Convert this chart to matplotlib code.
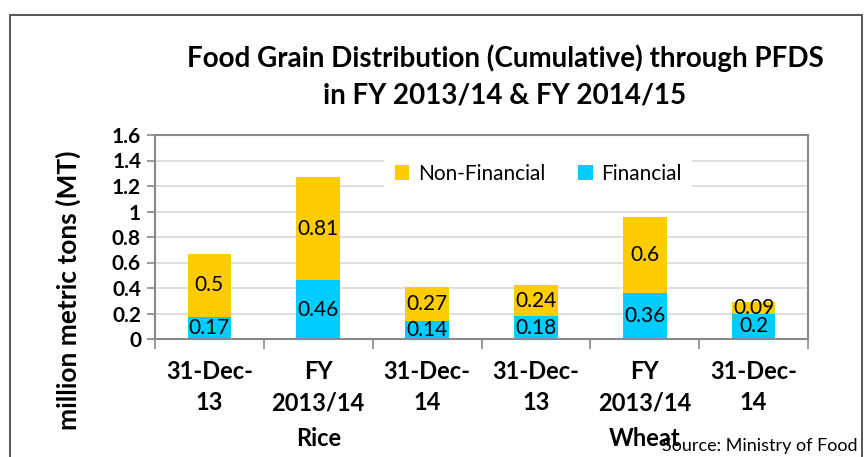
import numpy as np
import matplotlib as mpl
import matplotlib.pyplot as plt
from matplotlib.patches import Rectangle

mpl.rcParams.update({
    "font.family": ["Lato", "DejaVu Sans"],
})

categories = ["31-Dec-\n13", "FY\n2013/14", "31-Dec-\n14",
              "31-Dec-\n13", "FY\n2013/14", "31-Dec-\n14"]
groups = ["Rice", "Wheat"]
financial = [0.17, 0.46, 0.14, 0.18, 0.36, 0.2]
non_financial = [0.5, 0.81, 0.27, 0.24, 0.6, 0.09]
yticks = [0, 0.2, 0.4, 0.6, 0.8, 1, 1.2, 1.4, 1.6]

W, H = 867, 457
fig = plt.figure(figsize=(W / 100, H / 100), dpi=100)
ax = fig.add_axes([155 / W, 1 - 339 / H, 653 / W, 204 / H])

# outer chart border (bottom is cropped off)
fig.patches.append(Rectangle((10 / W, -0.1), 852 / W, 1.1 - 15 / H,
                             transform=fig.transFigure, fill=False,
                             edgecolor="#3a3a3a", lw=1.2))

x = np.arange(len(categories))
blue, yellow = "#00CCFF", "#FFCC00"
b1 = ax.bar(x, financial, width=0.4, color=blue, label="Financial", zorder=2)
b2 = ax.bar(x, non_financial, width=0.4, bottom=financial, color=yellow,
            label="Non-Financial", zorder=2)

for xi, f, n in zip(x, financial, non_financial):
    ax.text(xi, f / 2, f"{f:g}", ha="center", va="center", fontsize=15, zorder=3)
    ax.text(xi, f + n / 2, f"{n:g}", ha="center", va="center", fontsize=15, zorder=3)

ax.set_xlim(-0.5, len(categories) - 0.5)
ax.set_ylim(0, 1.6)
ax.set_yticks(yticks)
ax.set_yticklabels([f"{t:g}" for t in yticks], fontsize=15, fontweight="bold")
ax.yaxis.grid(True, color="#d9d9d9", lw=1.2, zorder=0)
ax.set_axisbelow(True)

ax.set_xticks(x)
ax.set_xticklabels(categories, fontsize=17, fontweight="bold", linespacing=1.45)
ax.set_xticks(np.arange(-0.5, len(categories)), minor=True)
ax.tick_params(axis="x", which="major", length=0, pad=15)
ax.tick_params(axis="x", which="minor", length=7, color="#898989", width=1.2)
ax.tick_params(axis="y", length=6, color="#898989", width=1.2, pad=4)

for s in ax.spines.values():
    s.set_color("#898989")
    s.set_linewidth(1.5)

# group labels under the category labels
for gi, g in enumerate(groups):
    ax.text(gi * 3 + 1, -99 / 204, g, ha="center", va="center",
            fontsize=17, fontweight="bold", transform=ax.get_xaxis_transform())

fig.text(68 / W, 1 - 290 / H, "million metric tons (MT)", rotation=90,
         ha="center", va="center", fontsize=19, fontweight="bold")

fig.text(505 / W, 1 - 58 / H, "Food Grain Distribution (Cumulative) through PFDS",
         ha="center", va="center", fontsize=20, fontweight="bold")
fig.text(505 / W, 1 - 96 / H, "in FY 2013/14 & FY 2014/15",
         ha="center", va="center", fontsize=20, fontweight="bold")

ax.legend(handles=[b2, b1], loc="center", bbox_to_anchor=(0.587, 0.81),
          ncol=2, frameon=True, facecolor="white", edgecolor="none",
          framealpha=1, fancybox=False, fontsize=15, handlelength=0.7,
          handleheight=0.7, handletextpad=0.4, columnspacing=1.6,
          borderpad=0.5)

fig.text(857 / W, 1 - 446 / H, "Source: Ministry of Food", ha="right",
         va="center", fontsize=13)

fig.savefig("out.png", dpi=100)
